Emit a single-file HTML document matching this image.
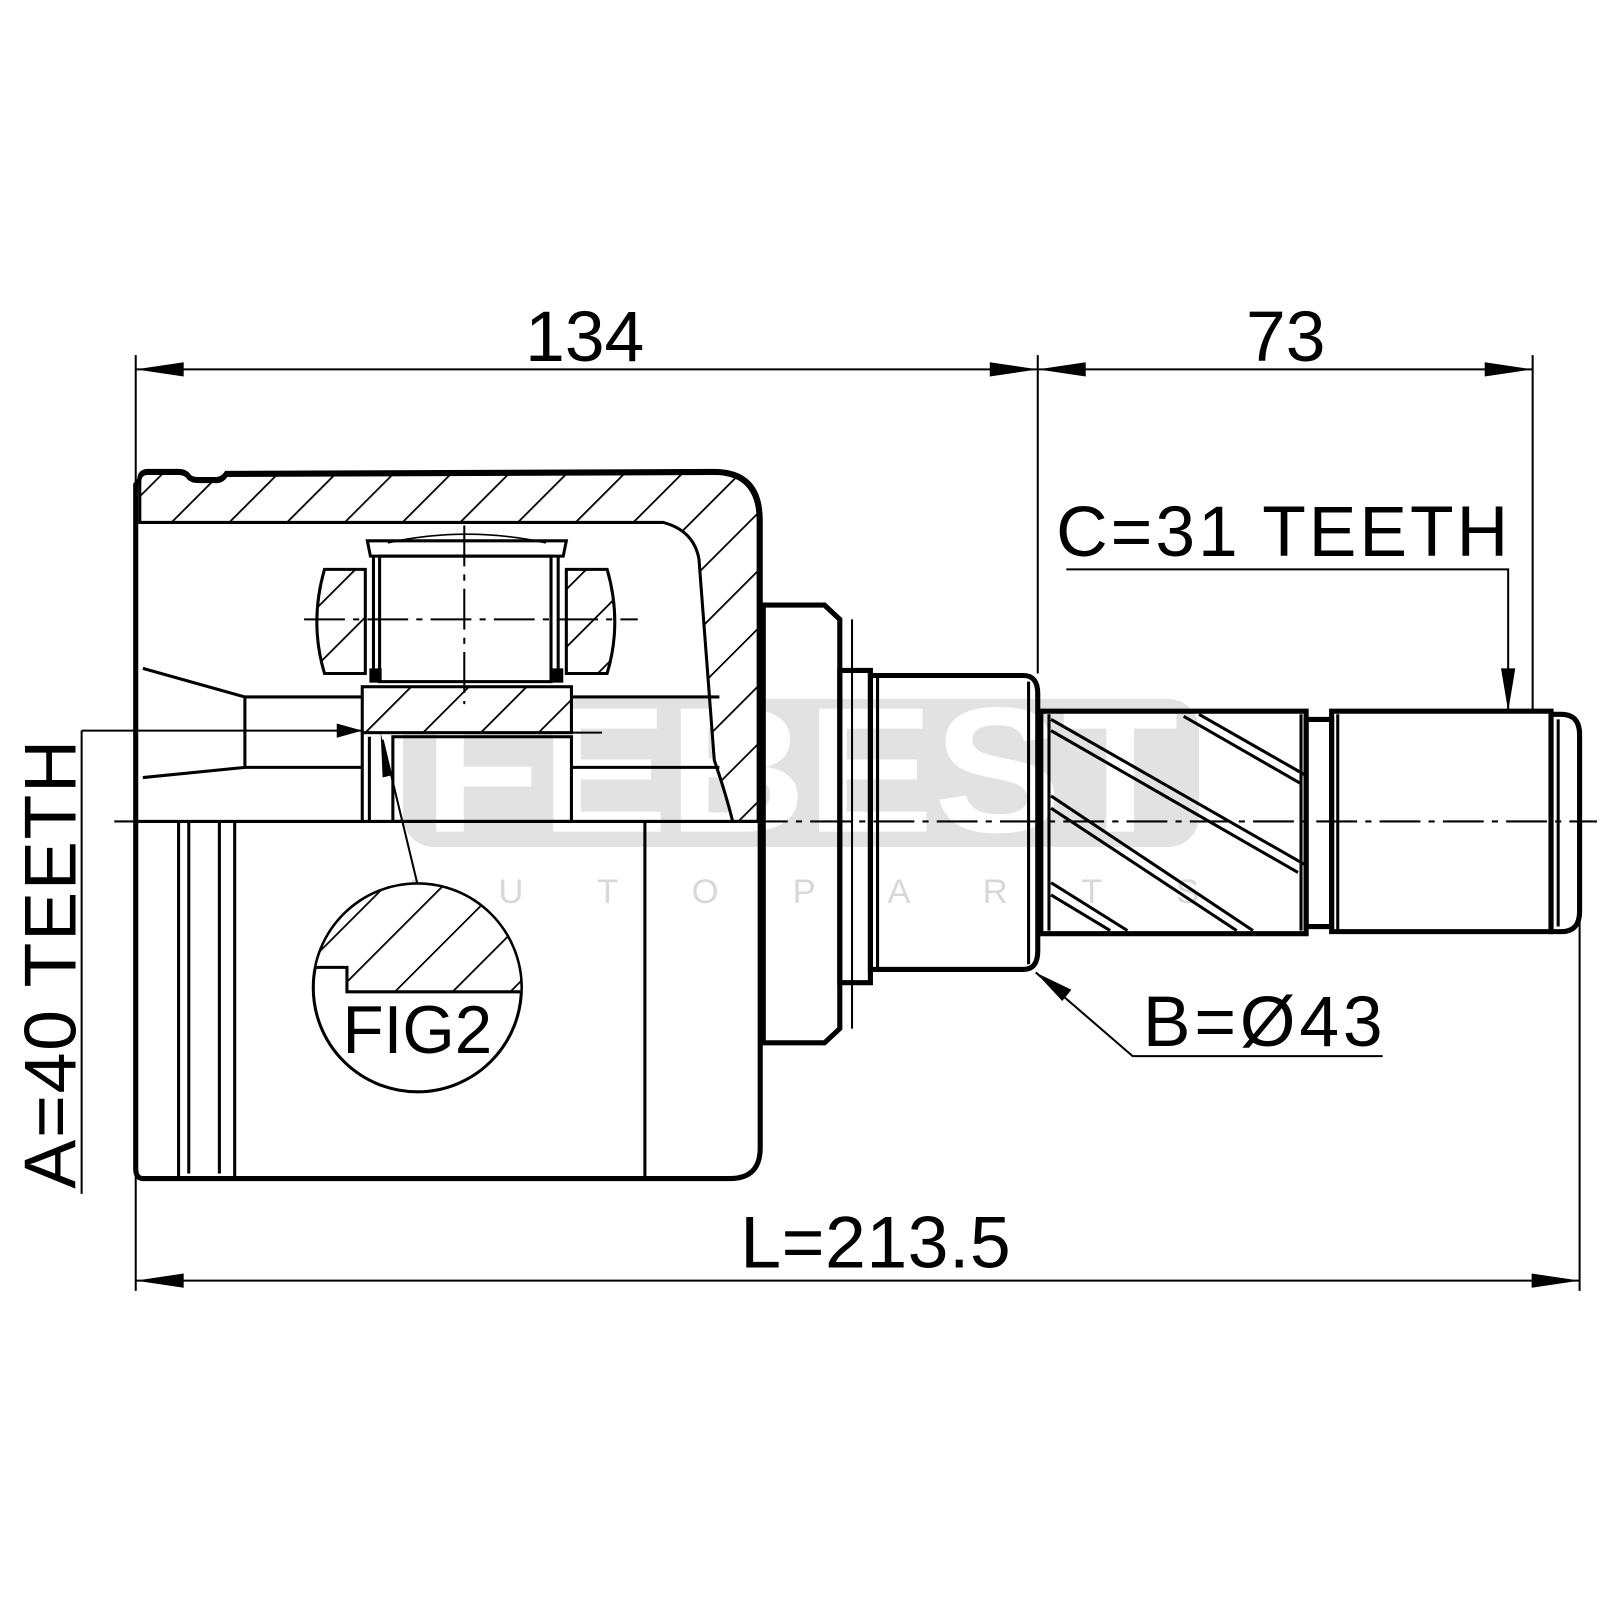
<!DOCTYPE html>
<html><head><meta charset="utf-8"><style>
html,body{margin:0;padding:0;background:#fff;}
svg{display:block;}
text{font-family:"Liberation Sans",sans-serif;fill:#000;}
</style></head><body>
<svg width="1600" height="1600" viewBox="0 0 1568 1568" xmlns="http://www.w3.org/2000/svg">
<defs>
<pattern id="h" patternUnits="userSpaceOnUse" width="40" height="40" patternTransform="rotate(45)">
<rect width="40" height="40" fill="#fff"/>
<line x1="0" y1="0" x2="0" y2="40" stroke="#000" stroke-width="3.5"/>
</pattern>
</defs>
<rect width="1568" height="1568" fill="#fff"/>

<!-- watermark -->
<rect x="395" y="685" width="780" height="145" rx="30" fill="#e2e2e2"/>
<text x="785" y="815" font-size="175" font-weight="bold" text-anchor="middle" style="fill:#fff" textLength="740" lengthAdjust="spacingAndGlyphs">FEBEST</text>
<text x="785" y="885" font-size="34" text-anchor="middle" style="fill:#d8d8d8" textLength="780">A U T O    P A R T S</text>

<g fill="none" stroke="#000" stroke-width="2">
<line x1="133" y1="348" x2="133" y2="1265"/>
<line x1="1017" y1="348" x2="1017" y2="660"/>
<line x1="1502" y1="348" x2="1502" y2="695"/>
<line x1="1548" y1="720" x2="1548" y2="1265"/>
<line x1="133" y1="362" x2="1017" y2="362"/>
<line x1="1017" y1="362" x2="1502" y2="362"/>
<line x1="133" y1="1255" x2="1548" y2="1255"/>
</g>
<g fill="#000">
<path d="M133,362 L180,355 L180,369z"/><path d="M1017,362 L1064,355 L1064,369z"/>
<path d="M133,1255 L180,1248 L180,1262z"/>
<path d="M1017,362 L970,355 L970,369z"/><path d="M1502,362 L1455,355 L1455,369z"/>
<path d="M1548,1255 L1501,1248 L1501,1262z"/>
</g>

<!-- housing -->
<path d="M137,470 Q137,462 145,462 L175,462 Q182,462 185,467 Q188,470 195,470 L212,470 Q218,470 222,464 L700,462 Q745,462 745,510 L745,1125 Q745,1155 715,1155 L140,1155 Q133,1155 133,1145 L133,475z" fill="none" stroke="#000" stroke-width="5"/>
<path d="M137,472 Q137,464 145,464 L175,464 Q182,464 185,469 Q188,472 195,472 L212,472 Q218,472 222,466 L700,464 Q743,464 743,510 L743,805 L718,805 Q712,780 700,745 L685,548 Q680,520 650,512 L137,512z" fill="url(#h)" stroke="#000" stroke-width="3"/>
<g fill="none" stroke="#000" stroke-width="3">
<line x1="133" y1="805" x2="745" y2="805"/>
<line x1="175" y1="805" x2="175" y2="1155"/><line x1="185" y1="805" x2="185" y2="1150"/>
<line x1="215" y1="805" x2="215" y2="1150"/><line x1="230" y1="805" x2="230" y2="1155"/>
<line x1="632" y1="805" x2="632" y2="1155"/>
<path d="M140,655 L240,683 L355,683"/>
<path d="M560,683 L705,683"/>
<path d="M140,762 L240,752 L355,752"/>
<path d="M560,752 L705,752"/>
<line x1="240" y1="683" x2="240" y2="752"/>
</g>
<path d="M318,558 L358,558 L358,660 L318,660 Q303,610 318,558z" fill="url(#h)" stroke="#000" stroke-width="3"/>
<path d="M555,558 L595,558 Q610,610 595,660 L555,660z" fill="url(#h)" stroke="#000" stroke-width="3"/>
<g fill="none" stroke="#000" stroke-width="3">
<rect x="372" y="545" width="168" height="123" fill="#fff"/>
<path d="M360,530 L555,530 L552,545 L363,545z"/>
<line x1="366" y1="545" x2="366" y2="668"/><line x1="547" y1="545" x2="547" y2="668"/>
<path d="M380,532 Q457,515 535,532" stroke-width="1.5"/>
</g>
<rect x="362" y="655" width="12" height="14" fill="#000"/><rect x="540" y="655" width="12" height="14" fill="#000"/>
<rect x="355" y="673" width="205" height="45" fill="url(#h)" stroke="#000" stroke-width="3"/>
<g fill="none" stroke="#000" stroke-width="3">
<rect x="385" y="722" width="175" height="83"/>
<line x1="355" y1="718" x2="355" y2="805"/><line x1="362" y1="722" x2="362" y2="805"/>
<line x1="361" y1="718" x2="590" y2="718" stroke-width="2"/>
</g>
<g stroke="#000" stroke-width="2" stroke-dasharray="40,8,6,8" fill="none">
<line x1="455" y1="515" x2="455" y2="690"/>
<line x1="298" y1="607" x2="625" y2="607"/>
<line x1="112" y1="805" x2="1565" y2="805"/>
</g>

<!-- FIG2 -->
<circle cx="409" cy="968" r="102" fill="#fff" stroke="#000" stroke-width="3"/>
<clipPath id="c"><circle cx="409" cy="968" r="101"/></clipPath>
<path d="M300,860 L520,860 L520,972 L340,972 L340,948 L300,948z" fill="url(#h)" stroke="#000" stroke-width="3" clip-path="url(#c)"/>
<text x="409" y="1032" font-size="66" text-anchor="middle">FIG2</text>
<line x1="409" y1="866" x2="375" y2="725" stroke="#000" stroke-width="2"/>
<path d="M373,718 L383,760 L375,762z" fill="#000"/>

<!-- A leader -->
<line x1="80" y1="716" x2="80" y2="1170" stroke="#000" stroke-width="2"/>
<line x1="80" y1="716" x2="355" y2="716" stroke="#000" stroke-width="2"/>
<path d="M355,716 L330,709 L330,723z" fill="#000"/>
<text transform="translate(74,945) rotate(-90)" font-size="72" text-anchor="middle" textLength="440">A=40 TEETH</text>

<!-- shaft -->
<g fill="none" stroke="#000" stroke-width="5">
<path d="M748,593 L808,593 L823,607 L823,1008 L808,1022 L748,1022z"/>
<path d="M823,657 L853,657 L853,963 L823,963z"/>
<path d="M853,662 L1003,662 Q1017,662 1017,680 L1017,932 Q1017,950 1003,950 L853,950z"/>
<path d="M1020,697 L1280,697 L1280,915 L1020,915z"/>
<path d="M1280,705 L1305,705 L1305,908 L1280,908z"/>
<path d="M1305,697 L1520,697 L1520,913 L1305,913z"/>
<path d="M1520,700 L1530,700 Q1548,700 1548,720 L1548,893 Q1548,913 1530,913 L1520,913z"/>
</g>
<g fill="none" stroke="#000" stroke-width="3">
<line x1="835" y1="607" x2="835" y2="1008" stroke-width="2"/>
<line x1="860" y1="662" x2="860" y2="950"/>
<line x1="1008" y1="668" x2="1008" y2="945"/>
<line x1="1028" y1="700" x2="1028" y2="912"/>
<line x1="1275" y1="700" x2="1275" y2="912"/>
<line x1="1311" y1="700" x2="1311" y2="912"/>
<line x1="1527" y1="705" x2="1527" y2="908"/>
<path d="M1030,705 L1280,848 M1030,716 L1272,855"/>
<path d="M1030,780 L1228,912 M1030,792 L1212,912"/>
<path d="M1030,865 L1105,912 M1030,877 L1088,912"/>
<path d="M1175,700 L1280,760 M1160,702 L1275,768"/>
</g>

<text x="1035" y="545" font-size="70" textLength="443">C=31 TEETH</text>
<path d="M1045,558 L1478,558 L1478,695" fill="none" stroke="#000" stroke-width="2"/>
<path d="M1478,697 L1471,655 L1485,655z" fill="#000"/>

<text x="1120" y="1025" font-size="70" textLength="235">B=Ø43</text>
<path d="M1355,1035 L1110,1035 L1015,953" fill="none" stroke="#000" stroke-width="2"/>
<path d="M1015,953 L1050,970 L1041,981z" fill="#000"/>

<text x="573" y="354" font-size="70" text-anchor="middle">134</text>
<text x="1260" y="354" font-size="70" text-anchor="middle">73</text>
<text x="858" y="1242" font-size="72" text-anchor="middle" textLength="265">L=213.5</text>
</svg>
</body></html>
